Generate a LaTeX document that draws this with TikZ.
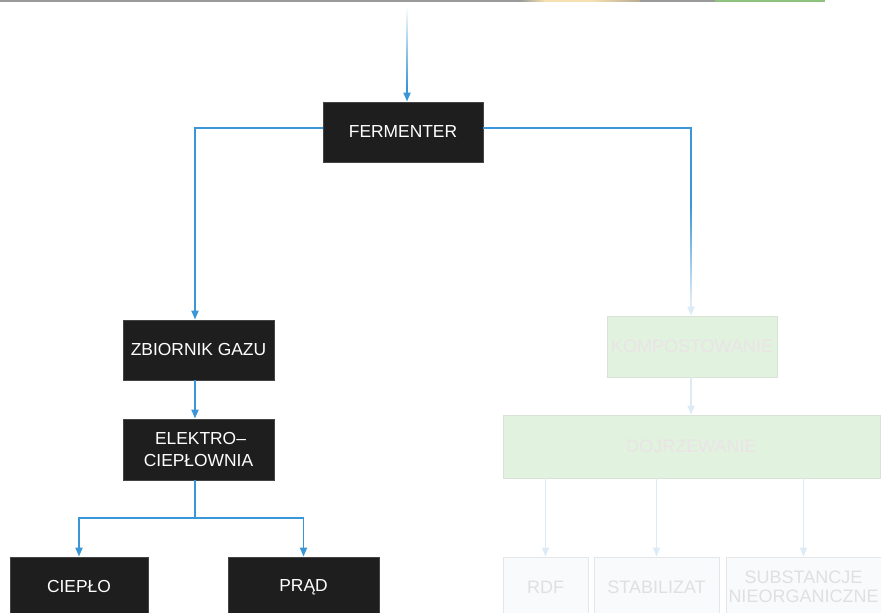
\documentclass[tikz,border=0pt]{standalone}
\usepackage{fontspec}
\setmainfont{Liberation Sans}
\usetikzlibrary{arrows.meta,calc}
\definecolor{boxfill}{HTML}{1E1E1E}
\definecolor{boxline}{HTML}{444444}
\definecolor{flow}{HTML}{3A96D6}
\definecolor{flowpale}{HTML}{DCEBF6}
\definecolor{greenfill}{HTML}{E1F2DF}
\definecolor{greenline}{HTML}{D8E2D6}
\definecolor{palefill}{HTML}{F8FAFB}
\definecolor{paleline}{HTML}{E4E7E9}
\definecolor{paletext}{HTML}{E0E0E0}
\definecolor{pinktext}{HTML}{EBE3E7}
\definecolor{stripgray}{HTML}{9A9A9A}
\definecolor{stripyellow}{HTML}{F6E2B0}
\definecolor{striptan}{HTML}{B8AA92}
\definecolor{stripgreen}{HTML}{8FC27C}
\begin{document}
\begin{tikzpicture}[x=1pt,y=-1pt,
  darkbox/.style={draw=boxline, line width=0.8pt, fill=boxfill, text=white,
    font=\fontsize{17.4}{21.5}\selectfont, inner sep=0pt, align=center},
  greenbox/.style={draw=greenline, line width=0.8pt, fill=greenfill, text=pinktext,
    font=\fontsize{18}{21}\selectfont, inner sep=0pt, align=center},
  palebox/.style={draw=paleline, line width=0.8pt, fill=palefill, text=paletext,
    font=\fontsize{18}{19.5}\selectfont, inner sep=0pt, align=center},
  flowline/.style={draw=flow, line width=1.8pt},
  paleflow/.style={draw=flowpale, line width=1.8pt},
  tip/.style={-{Triangle[width=7pt,length=9pt]}}]
\useasboundingbox (0,0) rectangle (881,613);
\clip (0,0) rectangle (881,613);
% top strip
\fill[stripgray] (0,0) rectangle (525,1.6);
\shade[left color=stripgray, right color=stripyellow] (520,0) rectangle (545,1.6);
\fill[stripyellow] (545,0) rectangle (590,1.6);
\shade[left color=stripyellow, right color=striptan] (590,0) rectangle (640,1.6);
\fill[stripgray] (640,0) rectangle (715,1.6);
\fill[stripgreen] (715,0) rectangle (825,1.6);
% nodes
\node[darkbox, minimum width=160pt, minimum height=60pt] (ferm) at (403,132) {FERMENTER};
\node[darkbox, minimum width=151pt, minimum height=60pt] (zbior) at (198.5,350) {ZBIORNIK GAZU};
\node[darkbox, minimum width=151pt, minimum height=61pt] (elek) at (198.5,449.5) {\hspace*{4pt}ELEKTRO–\\CIEPŁOWNIA};
\node[darkbox, minimum width=138pt, minimum height=60pt] (cieplo) at (79,587) {CIEPŁO};
\node[darkbox, minimum width=151pt, minimum height=60pt] (prad) at (303.5,587) {PRĄD};
\node[greenbox, minimum width=170pt, minimum height=61pt] (komp) at (692,346.5) {KOMPOSTOWANIE};
\node[greenbox, minimum width=377pt, minimum height=63pt] (dojrz) at (691.5,446.5) {DOJRZEWANIE};
\node[palebox, minimum width=85pt, minimum height=60pt] (rdf) at (545.5,587) {RDF};
\node[palebox, minimum width=125pt, minimum height=60pt] (stab) at (656.5,587) {STABILIZAT};
\node[palebox, minimum width=155pt, minimum height=60pt] (subst) at (803.5,587) {SUBSTANCJE\\NIEORGANICZNE};
% coordinates
\coordinate (topin) at (407,6);
\coordinate (topmid) at (407,86);
\coordinate (fL) at (323,128);
\coordinate (fR) at (483,128);
\coordinate (split) at (195,518);
\coordinate (fade1) at (691,205);
\coordinate (fade2) at (691,300);
% incoming arrow (fading)
\shade[top color=white, bottom color=flow] ($(topin)+(-0.9,0)$) rectangle ($(topmid)+(0.9,1)$);
\draw[flowline, tip] (topmid) -- (topmid |- ferm.north);
% left branch
\draw[flowline, tip] (fL) -| ([xshift=-3.5pt]zbior.north);
\draw[flowline, tip] ([xshift=-3.5pt]zbior.south) -- ([xshift=-3.5pt]elek.north);
\draw[flowline] ([xshift=-3.5pt]elek.south) -- (split);
\draw[flowline, tip] (split) -| (cieplo.north);
\draw[flowline, tip] (split) -| (prad.north);
% right branch
\draw[flowline] (fR) -| (fade1);
\shade[top color=flow, bottom color=flowpale] ($(fade1)+(-0.9,0)$) rectangle ($(fade2)+(0.9,0)$);
\draw[paleflow, tip] (fade2) -- (fade2 |- komp.north);
\draw[paleflow, tip] ([xshift=-1pt]komp.south) -- ([xshift=-1pt]komp.south |- dojrz.north);
\draw[paleflow, tip] (rdf.north |- dojrz.south) -- (rdf.north);
\draw[paleflow, tip] (stab.north |- dojrz.south) -- (stab.north);
\draw[paleflow, tip] (subst.north |- dojrz.south) -- (subst.north);
\end{tikzpicture}
\end{document}
